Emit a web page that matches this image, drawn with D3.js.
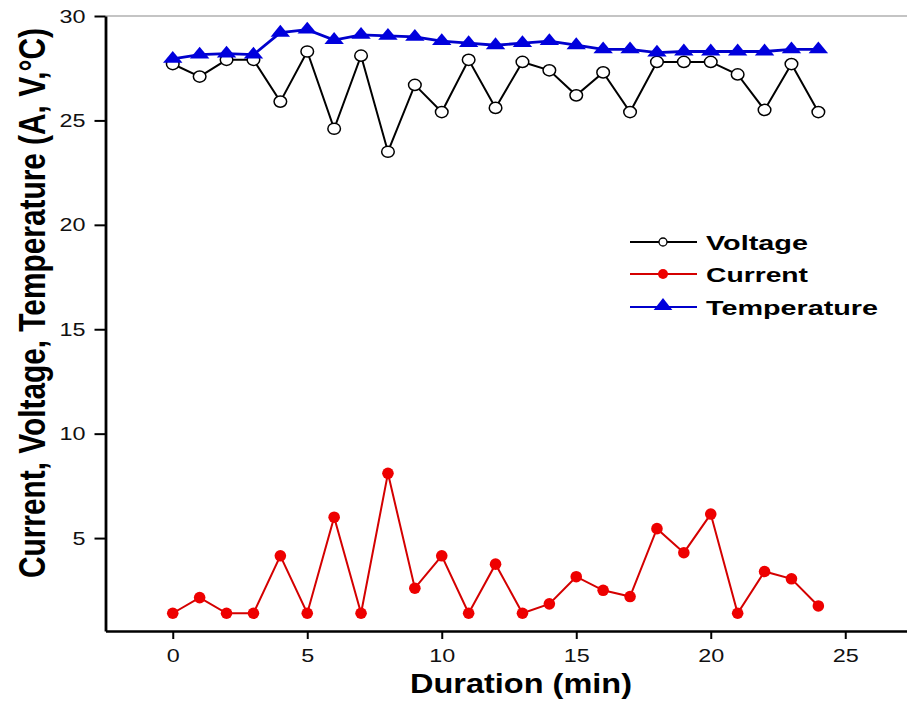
<!DOCTYPE html>
<html>
<head>
<meta charset="utf-8">
<script src="https://cdn.jsdelivr.net/npm/d3@7"></script>
<style>
  body { margin: 0; background: #fff; }
  svg { display: block; font-family: "Liberation Sans", Arial, sans-serif; }
</style>
</head>
<body>
<div id="chart"></div>
<script>
// durations (min)
const duration = [0, 1, 2, 3, 4, 5, 6, 7, 8, 9, 10, 11, 12, 13, 14, 15, 16, 17, 18, 19, 20, 21, 22, 23, 24];

// values
const voltage = [27.7, 27.1, 27.9, 27.9, 25.9, 28.3, 24.6, 28.1, 23.5, 26.7, 25.4, 27.9, 25.6,
                 27.8, 27.4, 26.2, 27.3, 25.4, 27.8, 27.8, 27.8, 27.2, 25.5, 27.7, 25.4];
const current = [1.4, 2.15, 1.4, 1.4, 4.15, 1.4, 6.0, 1.4, 8.1, 2.6, 4.15, 1.4, 3.75,
                 1.4, 1.85, 3.15, 2.5, 2.2, 5.45, 4.3, 6.15, 1.4, 3.4, 3.05, 1.75];
const temperature = [27.95, 28.15, 28.2, 28.15, 29.2, 29.35, 28.85, 29.1, 29.05, 29.0, 28.8, 28.7, 28.6,
                     28.7, 28.8, 28.6, 28.4, 28.4, 28.25, 28.3, 28.3, 28.3, 28.3, 28.4, 28.4];

const xMajor = [0, 5, 10, 15, 20, 25];
const xMinor = [-2.5, 2.5, 7.5, 12.5, 17.5, 22.5, 27.5];
const yMajor = [5, 10, 15, 20, 25, 30];
const yMinor = [2.5, 7.5, 12.5, 17.5, 22.5, 27.5];

const width = 907, height = 706;

const svg = d3.select("#chart").append("svg")
    .attr("width", width)
    .attr("height", height);

const x = d3.scaleLinear().domain([-2.5, 27.5]).range([105.5, 912.5]);
const y = d3.scaleLinear().domain([0.55, 30]).range([631, 16]);

// stretch text horizontally like the scanned figure
function stretch(sel, perChar) {
    sel.each(function() {
        const t = d3.select(this);
        const s = t.text();
        if (!s) return;
        t.attr("textLength", s.length * perChar).attr("lengthAdjust", "spacingAndGlyphs");
    });
}

// top frame line
svg.append("line")
    .attr("x1", x(-2.5)).attr("x2", width)
    .attr("y1", y(30)).attr("y2", y(30))
    .attr("stroke", "#8a8a8a").attr("stroke-width", 1.2);

// x axis
const gx = svg.append("g")
    .attr("transform", `translate(0, ${y.range()[0]})`);
gx.call(d3.axisBottom(x).tickValues(xMinor).tickSize(6).tickFormat("").tickSizeOuter(0));
gx.call(d3.axisBottom(x).tickValues(xMajor).tickSize(8).tickPadding(10).tickSizeOuter(0));
gx.selectAll(".domain").attr("stroke-width", 2.6);
gx.selectAll(".tick line").attr("stroke-width", 2);
gx.selectAll(".tick text")
    .attr("font-size", 19)
    .attr("fill", "#111")
    .call(stretch, 13);

// y axis
const gy = svg.append("g")
    .attr("transform", `translate(${x.range()[0]}, 0)`);
gy.call(d3.axisLeft(y).tickValues(yMinor).tickSize(8).tickFormat("").tickSizeOuter(0));
gy.call(d3.axisLeft(y).tickValues(yMajor).tickSize(11).tickPadding(9).tickSizeOuter(0));
gy.selectAll(".domain").attr("stroke-width", 2.8);
gy.selectAll(".tick line").attr("stroke-width", 2);
gy.selectAll(".tick text")
    .attr("font-size", 19)
    .attr("fill", "#111")
    .call(stretch, 13);

// axis titles
svg.append("text")
    .attr("x", 521).attr("y", 693)
    .attr("text-anchor", "middle")
    .attr("font-size", 27)
    .attr("font-weight", "bold")
    .attr("textLength", 222).attr("lengthAdjust", "spacingAndGlyphs")
    .text("Duration (min)");

svg.append("text")
    .attr("transform", "translate(45, 303) rotate(-90)")
    .attr("text-anchor", "middle")
    .attr("font-size", 36)
    .attr("font-weight", "bold")
    .attr("textLength", 550).attr("lengthAdjust", "spacingAndGlyphs")
    .text("Current, Voltage, Temperature (A, V,°C)");

const line = d3.line()
    .x((d, i) => x(duration[i]))
    .y(d => y(d));

const tri = d3.symbol(d3.symbolTriangle, 90);

// voltage
svg.append("path")
    .datum(voltage)
    .attr("d", line)
    .attr("fill", "none")
    .attr("stroke", "#000")
    .attr("stroke-width", 2);
svg.selectAll(".volt")
    .data(voltage)
    .enter()
    .append("ellipse")
    .attr("class", "volt")
    .attr("cx", (d, i) => x(duration[i]))
    .attr("cy", d => y(d))
    .attr("rx", 6.3).attr("ry", 5.6)
    .attr("fill", "#fff")
    .attr("stroke", "#000")
    .attr("stroke-width", 1.5);

// current
svg.append("path")
    .datum(current)
    .attr("d", line)
    .attr("fill", "none")
    .attr("stroke", "#d40000")
    .attr("stroke-width", 2);
svg.selectAll(".cur")
    .data(current)
    .enter()
    .append("circle")
    .attr("class", "cur")
    .attr("cx", (d, i) => x(duration[i]))
    .attr("cy", d => y(d))
    .attr("r", 5.8)
    .attr("fill", "#ee0000");

// temperature
svg.append("path")
    .datum(temperature)
    .attr("d", line)
    .attr("fill", "none")
    .attr("stroke", "#0000cc")
    .attr("stroke-width", 2.8);
svg.selectAll(".temp")
    .data(temperature)
    .enter()
    .append("path")
    .attr("class", "temp")
    .attr("d", tri)
    .attr("transform", (d, i) => `translate(${x(duration[i])}, ${y(d)}) scale(1.35, 0.95)`)
    .attr("fill", "#0000dd");

// legend
const legend = [
    { name: "Voltage", color: "#000", mark: "open", yy: 242 },
    { name: "Current", color: "#d40000", mark: "dot", yy: 274 },
    { name: "Temperature", color: "#0000cc", mark: "tri", yy: 307 }
];
const lg = svg.append("g");
legend.forEach(l => {
    lg.append("line")
        .attr("x1", 630).attr("x2", 697)
        .attr("y1", l.yy).attr("y2", l.yy)
        .attr("stroke", l.color).attr("stroke-width", 2);
    if (l.mark == "open") {
        lg.append("circle").attr("cx", 663).attr("cy", l.yy).attr("r", 4)
            .attr("fill", "#fff").attr("stroke", "#000").attr("stroke-width", 1.3);
    } else if (l.mark == "dot") {
        lg.append("circle").attr("cx", 663).attr("cy", l.yy).attr("r", 5)
            .attr("fill", "#ee0000");
    } else {
        lg.append("path").attr("d", tri)
            .attr("transform", `translate(663, ${l.yy - 1}) scale(1.3, 0.95)`)
            .attr("fill", "#0000dd");
    }
    lg.append("text")
        .attr("x", 706).attr("y", l.yy + 8)
        .attr("font-size", 20)
        .attr("font-weight", "bold")
        .attr("textLength", l.name == "Temperature" ? 172 : 102)
        .attr("lengthAdjust", "spacingAndGlyphs")
        .text(l.name);
});
</script>
</body>
</html>
